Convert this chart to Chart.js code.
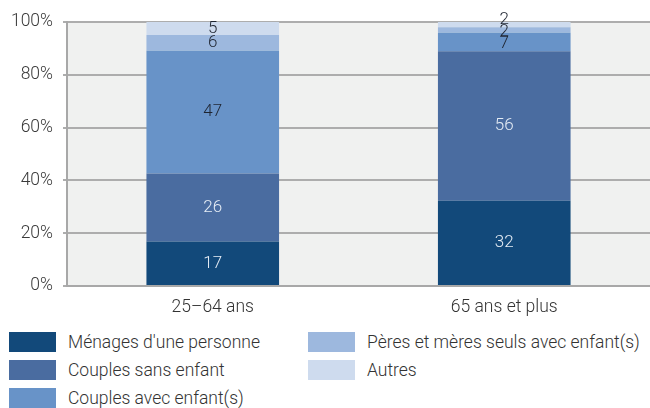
<!DOCTYPE html>
<html lang="fr">
<head>
<meta charset="utf-8">
<script src="https://cdn.jsdelivr.net/npm/chart.js@4"></script>
<style>
  html, body { margin: 0; padding: 0; background: #fff; }
  body { width: 650px; height: 408px; overflow: hidden; position: relative; font-family: Roboto, sans-serif; font-weight: 300; }
  .chart-wrap { position: absolute; left: 0; top: 0; width: 650px; height: 320px; }
  .legend {
    position: absolute; left: 9px; top: 332px;
    display: grid; grid-template-rows: repeat(3, 20px); grid-auto-flow: column;
    grid-template-columns: 299px auto; row-gap: 8px;
  }
  .legend-item { display: flex; align-items: center; font-size: 17.5px; color: #333; white-space: nowrap; }
  .legend-box { width: 47px; height: 20px; margin-right: 12px; flex: none; }
</style>
</head>
<body>
<div class="chart-wrap"><canvas id="chart"></canvas></div>
<div class="legend" id="legend"></div>
<script>
const categories = ['25–64 ans', '65 ans et plus'];
const seriesNames = [
  "Ménages d'une personne",
  'Couples sans enfant',
  'Couples avec enfant(s)',
  'Pères et mères seuls avec enfant(s)',
  'Autres'
];
// values as printed on the bars (%)
const menages = [17, 32];
const couplesSans = [26, 56];
const couplesAvec = [47, 7];
const parentsSeuls = [6, 2];
const autres = [5, 2];
const yTicks = [0, 20, 40, 60, 80, 100];

const seriesValues = [menages, couplesSans, couplesAvec, parentsSeuls, autres];
const colors = ['#12497a', '#4a6ca0', '#6893c8', '#9db8de', '#cedbee'];
const labelColors = ['#e6edf5', '#e6edf5', '#1e2430', '#1e2430', '#1e2430'];

// bars are 100% stacked: each column is scaled to its total
const totals = categories.map((_, i) => seriesValues.reduce((s, arr) => s + arr[i], 0));

const datasets = seriesNames.map((name, k) => ({
  label: name,
  data: seriesValues[k].map((v, i) => v / totals[i] * 100),
  raw: seriesValues[k],
  backgroundColor: colors[k],
  borderWidth: 0,
  categoryPercentage: 1,
  barPercentage: 0.455
}));

const plotBg = {
  id: 'plotBg',
  beforeDraw(chart) {
    const { ctx, chartArea: a } = chart;
    ctx.save();
    ctx.fillStyle = '#f0f1f0';
    ctx.fillRect(a.left, a.top, a.right - a.left, a.bottom - a.top);
    ctx.restore();
  }
};

const barLabels = {
  id: 'barLabels',
  afterDatasetsDraw(chart) {
    const { ctx } = chart;
    ctx.save();
    ctx.font = '300 17px Roboto, sans-serif';
    ctx.textAlign = 'center';
    ctx.textBaseline = 'middle';
    categories.forEach((_, i) => {
      const items = chart.data.datasets.map((ds, k) => {
        const bar = chart.getDatasetMeta(k).data[i];
        return { text: String(ds.raw[i]), x: bar.x, y: (bar.y + bar.base) / 2, color: labelColors[k] };
      });
      // spread labels of thin segments so they do not overlap
      const gap = 12;
      for (let it = 0; it < 50; it++) {
        for (let k = 0; k < items.length - 1; k++) {
          const lo = items[k], hi = items[k + 1];
          const d = lo.y - hi.y;
          if (d < gap) {
            const push = (gap - d) / 2;
            lo.y += push;
            hi.y -= push;
          }
        }
      }
      items.forEach(l => {
        ctx.fillStyle = l.color;
        ctx.fillText(l.text, l.x, l.y);
      });
    });
    ctx.restore();
  }
};

new Chart(document.getElementById('chart'), {
  type: 'bar',
  data: { labels: categories, datasets },
  options: {
    responsive: true,
    maintainAspectRatio: false,
    animation: false,
    layout: { padding: { top: 22, right: 0, bottom: 0, left: 0 } },
    plugins: { legend: { display: false }, tooltip: { enabled: false } },
    scales: {
      x: {
        stacked: true,
        grid: { display: false, drawTicks: false },
        border: { color: '#a8a8a8', width: 2 },
        ticks: { color: '#333', font: { family: 'Roboto', size: 17.5, weight: 300 }, padding: 11 },
        afterFit(scale) { scale.height = 34; }
      },
      y: {
        stacked: true,
        min: 0,
        max: 100,
        afterBuildTicks(scale) { scale.ticks = yTicks.map(v => ({ value: v })); },
        grid: { color: '#adadad', lineWidth: 2, tickLength: 4 },
        border: { color: '#a8a8a8', width: 2 },
        ticks: {
          color: '#3a3a3a',
          font: { family: 'Roboto', size: 17.5, weight: 300 },
          padding: 10,
          callback: v => v + '%'
        },
        afterFit(scale) { scale.width = 67; }
      }
    }
  },
  plugins: [plotBg, barLabels]
});

const legend = document.getElementById('legend');
seriesNames.forEach((name, k) => {
  const item = document.createElement('div');
  item.className = 'legend-item';
  const box = document.createElement('span');
  box.className = 'legend-box';
  box.style.background = colors[k];
  item.appendChild(box);
  item.appendChild(document.createTextNode(name));
  legend.appendChild(item);
});
</script>
</body>
</html>
